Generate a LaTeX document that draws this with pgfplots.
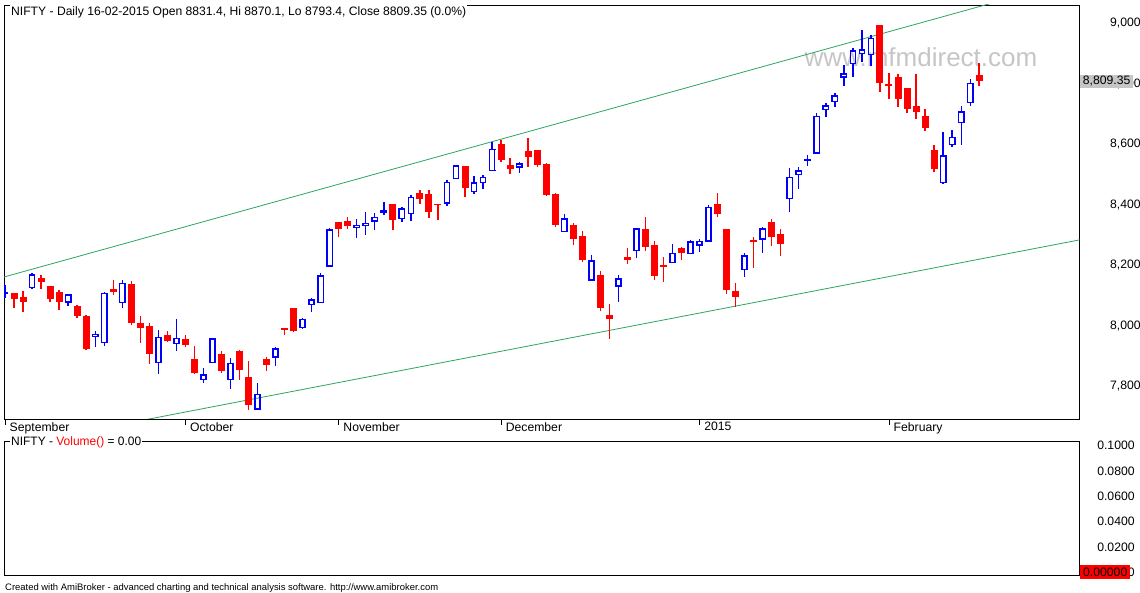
\documentclass[border=0pt]{standalone}
\usepackage{fontspec}
\setmainfont{Liberation Sans}
\usepackage{graphicx}
\usepackage{pgfplots}
\pgfplotsset{compat=1.18}
\usepackage{pgfplotstable}
\definecolor{cgreen}{RGB}{46,165,95}
\definecolor{cblue}{RGB}{0,0,255}
\definecolor{cred}{RGB}{255,0,0}
\definecolor{lblgray}{RGB}{198,198,198}
\definecolor{wm}{RGB}{198,198,198}

% up (hollow blue) candles: index, open, high, low, close
\pgfplotstableread{
i o h l c
0 8109 8135 8091 8111
3 8127 8174 8122 8168
7 8080 8105 8066 8102
10 7965 7983 7931 7972
11 7946 8111 7935 8108
13 8078 8152 8060 8141
17 7880 7987 7840 7962
19 7942 8023 7918 7959
22 7823 7861 7812 7838
23 7880 7962 7880 7957
25 7823 7894 7792 7876
28 7726 7812 7721 7774
30 7898 7929 7869 7924
33 7995 8028 7990 8022
34 8071 8091 8047 8085
35 8078 8174 8078 8165
36 8198 8323 8198 8317
39 8325 8354 8290 8332
40 8332 8378 8301 8339
41 8348 8372 8317 8359
42 8376 8411 8367 8380
44 8355 8392 8345 8386
45 8372 8433 8348 8425
49 8406 8483 8397 8475
50 8488 8529 8488 8529
52 8444 8496 8436 8472
53 8474 8499 8453 8491
54 8514 8609 8514 8584
57 8525 8542 8507 8536
62 8312 8370 8312 8354
65 8152 8235 8150 8215
68 8133 8169 8080 8155
70 8249 8325 8226 8321
74 8210 8271 8210 8240
76 8240 8284 8240 8277
77 8268 8288 8246 8279
78 8282 8400 8282 8392
82 8187 8240 8163 8231
84 8287 8328 8242 8321
87 8422 8523 8378 8491
88 8501 8527 8452 8512
89 8547 8565 8529 8550
90 8571 8703 8571 8692
91 8716 8738 8690 8727
92 8742 8771 8725 8760
93 8824 8863 8794 8833
94 8868 8918 8824 8909
95 8901 8980 8874 8912
96 8898 8962 8859 8951
104 8474 8641 8468 8562
105 8600 8648 8593 8623
106 8673 8727 8598 8708
107 8739 8816 8728 8802
}\up

% down (filled red) candles: index, open, high, low, close
\pgfplotstableread{
i o h l c
1 8108 8110 8058 8091
2 8095 8115 8047 8080
4 8158 8168 8122 8146
5 8132 8132 8080 8088
6 8111 8119 8053 8080
8 8066 8069 8027 8034
9 8033 8036 7920 7924
12 8124 8152 8104 8113
14 8139 8150 8003 8011
15 8009 8033 7945 7994
16 8000 8009 7873 7906
18 7972 7983 7948 7951
20 7957 7970 7932 7937
21 7891 7934 7840 7845
24 7907 7917 7846 7852
26 7917 7920 7822 7855
27 7832 7885 7722 7740
29 7891 7898 7852 7872
31 7992 7995 7970 7989
32 8058 8058 7981 7984
37 8343 8343 8295 8320
38 8347 8359 8321 8332
43 8403 8403 8317 8350
46 8441 8450 8403 8421
47 8436 8450 8358 8378
48 8403 8403 8350 8401
51 8529 8529 8428 8457
55 8602 8615 8543 8549
56 8532 8556 8502 8519
58 8579 8620 8525 8560
59 8582 8582 8525 8533
60 8536 8538 8431 8433
61 8436 8441 8328 8334
63 8334 8339 8268 8289
64 8298 8314 8213 8218
66 8169 8183 8050 8061
67 8036 8073 7957 8023
69 8229 8259 8205 8218
71 8321 8359 8249 8262
72 8268 8281 8152 8166
73 8202 8229 8147 8196
75 8257 8262 8218 8242
79 8403 8441 8361 8370
80 8321 8321 8106 8119
81 8116 8141 8064 8097
83 8282 8295 8191 8279
85 8345 8353 8264 8295
86 8304 8321 8231 8271
97 8995 8995 8775 8804
98 8797 8837 8750 8795
99 8823 8833 8725 8750
100 8786 8786 8703 8717
101 8729 8833 8683 8708
102 8694 8719 8646 8655
103 8582 8598 8510 8519
108 8831.4 8870.1 8793.4 8809.35
}\down

\newcommand{\lblfont}{\fontsize{12.2}{14}\selectfont}

\pgfplotsset{
  candle/.style={only marks, mark=*, mark size=0pt,
    mark options={draw=none, fill=none}, forget plot},
}

\begin{document}
\begin{tikzpicture}
\useasboundingbox (0,0) rectangle (1140pt,-593pt);
\fill[white] (0,0) rectangle (1140pt,-593pt);
% watermark
\node[anchor=base, text=wm, inner sep=0pt, font=\fontsize{26}{30}\selectfont] at (921pt,-66.7pt) {www.mfmdirect.com};

\begin{axis}[
  at={(4pt,-5pt)}, anchor=north west,
  scale only axis, width=1075.5pt, height=414pt,
  xmin=-0.111, xmax=119.12, ymin=7692.6, ymax=9061.2,
  axis line style={black, line width=0.9pt},
  xtick={0,20,37,55,77,98},
  xticklabels={September,October,November,December,2015,February},
  xtick pos=bottom, tick align=outside, major tick length=6pt,
  x tick style={black, line width=0.9pt},
  xticklabel style={anchor=north west, inner sep=0pt, xshift=4.5pt, yshift=3pt},
  ytick={7800,8000,8200,8400,8600,8800,9000},
  ytick pos=right, yticklabel pos=right,
  y tick style={draw=none},
  yticklabel style={anchor=east, inner sep=0pt, xshift=55.3pt},
  scaled y ticks=false,
  /pgf/number format/fixed,
  /pgf/number format/1000 sep={,},
  /pgf/number format/assume math mode=true,
  tick label style={font=\lblfont},
]
% channel lines
\addplot[cgreen, line width=0.8pt, forget plot] coordinates {(-1,8154.7) (122,9171.5)};
\addplot[cgreen, line width=0.8pt, forget plot] coordinates {(-1,7595.1) (122,8301.2)};

% blue candles: upper wick
\addplot[candle,
  error bars/.cd, y dir=plus, y explicit, error mark=none,
  error bar style={cblue, line width=1.3pt}]
  table[x=i, y=c, y error plus expr=\thisrow{h}-\thisrow{c}] {\up};
% blue candles: lower wick
\addplot[candle,
  error bars/.cd, y dir=minus, y explicit, error mark=none,
  error bar style={cblue, line width=1.3pt}]
  table[x=i, y=o, y error minus expr=\thisrow{o}-\thisrow{l}] {\up};
% blue body: left and right sides
\addplot[candle,
  error bars/.cd, y dir=both, y explicit, error mark=none,
  error bar style={cblue, line width=1.6pt}]
  table[x expr=\thisrow{i}-0.288, y expr=(\thisrow{o}+\thisrow{c})/2, y error expr=(\thisrow{c}-\thisrow{o})/2] {\up};
\addplot[candle,
  error bars/.cd, y dir=both, y explicit, error mark=none,
  error bar style={cblue, line width=1.6pt}]
  table[x expr=\thisrow{i}+0.288, y expr=(\thisrow{o}+\thisrow{c})/2, y error expr=(\thisrow{c}-\thisrow{o})/2] {\up};
% blue body: bottom and top edges
\addplot[candle,
  error bars/.cd, x dir=both, x explicit, error mark=none,
  error bar style={cblue, line width=1.6pt}]
  table[x=i, y=o, x error expr=0.377] {\up};
\addplot[candle,
  error bars/.cd, x dir=both, x explicit, error mark=none,
  error bar style={cblue, line width=1.6pt}]
  table[x=i, y=c, x error expr=0.377] {\up};

% red candles: wick
\addplot[candle,
  error bars/.cd, y dir=both, y explicit, error mark=none,
  error bar style={cred, line width=1.4pt}]
  table[x=i, y=c, y error plus expr=\thisrow{h}-\thisrow{c}, y error minus expr=\thisrow{c}-\thisrow{l}] {\down};
% red candles: body
\addplot[candle,
  error bars/.cd, y dir=both, y explicit, error mark=none,
  error bar style={cred, line width=7pt}]
  table[x=i, y expr=(\thisrow{o}+\thisrow{c})/2, y error expr={max((\thisrow{o}-\thisrow{c})/2,2.5)}] {\down};

\coordinate (lastp) at (axis cs:119.12,8809.35);
\end{axis}

\begin{axis}[
  at={(4pt,-441pt)}, anchor=north west,
  scale only axis, width=1075.5pt, height=134pt,
  xmin=0, xmax=1, ymin=-0.00213, ymax=0.10371,
  axis line style={black, line width=0.9pt},
  xtick=\empty,
  ytick={0,0.02,0.04,0.06,0.08,0.1},
  ytick pos=right, yticklabel pos=right,
  y tick style={draw=none},
  yticklabel style={anchor=east, inner sep=0pt, xshift=55.3pt},
  scaled y ticks=false,
  /pgf/number format/fixed,
  /pgf/number format/fixed zerofill,
  /pgf/number format/precision=4,
  /pgf/number format/assume math mode=true,
  tick label style={font=\lblfont},
]
\addplot[draw=none, forget plot] coordinates {(0,0)};
\coordinate (zer) at (axis cs:1,0);
\end{axis}

% last price boxes
\node[anchor=west, fill=lblgray, inner xsep=2.7pt, inner ysep=0pt, minimum height=13pt, font=\lblfont] at ([xshift=0.5pt]lastp) {8,809.35};
\node[anchor=west, fill=cred, inner xsep=3pt, inner ysep=0pt, minimum height=14.3pt, font=\lblfont] at ([xshift=0.5pt]zer) {0.00000};

% titles
\node[anchor=base west, fill=white, inner sep=1pt, font=\lblfont] at (10pt,-15.3pt)
  {\resizebox{455pt}{\height}{NIFTY - Daily 16-02-2015 Open 8831.4, Hi 8870.1, Lo 8793.4, Close 8809.35 (0.0\%)}};
\node[anchor=base west, fill=white, inner sep=1pt, font=\lblfont] at (10pt,-445.3pt)
  {\resizebox{130pt}{\height}{NIFTY - \textcolor{cred}{Volume()} = 0.00}};
% credit line
\node[anchor=base west, inner sep=0pt, font=\fontsize{9.4}{11}\selectfont] at (5pt,-590pt)
  {\resizebox{433pt}{\height}{Created with AmiBroker - advanced charting and technical analysis software. http://www.amibroker.com}};
\end{tikzpicture}
\end{document}
